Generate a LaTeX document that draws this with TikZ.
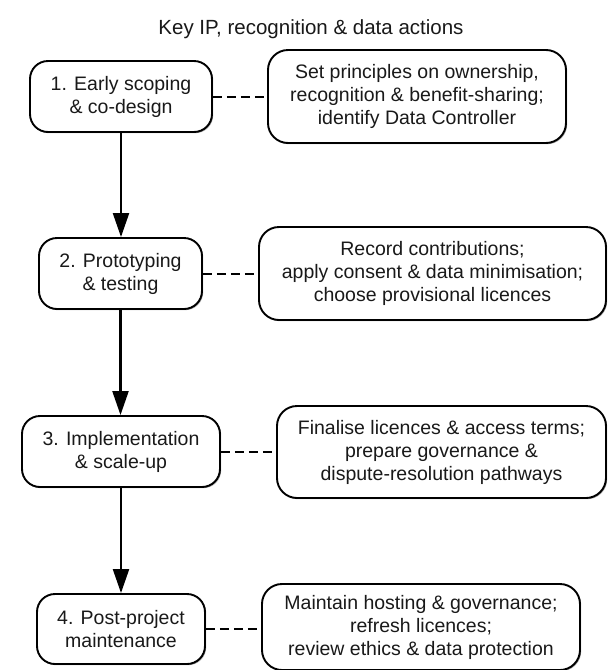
\documentclass[tikz,border=0pt]{standalone}
\usepackage{fontspec}
\setmainfont{Liberation Sans}
\usetikzlibrary{arrows.meta,shadows}
\begin{document}
\begin{tikzpicture}[x=1pt,y=-1pt,
  every node/.style={font=\fontsize{19.5}{23}\selectfont, align=center, inner sep=0pt, text=black!90},
  stage/.style={draw=black, line width=1.9pt, rounded corners=18pt, fill=white,
     drop shadow={shadow xshift=1.2pt, shadow yshift=-1.2pt, opacity=0.35, fill=black}},
  action/.style={stage, rounded corners=20pt},
  flow/.style={line width=2.2pt, -{Triangle[length=24pt,width=16pt]}},
  link/.style={line width=2pt, dash pattern=on 9pt off 5pt}]
\useasboundingbox[fill=white] (0,0) rectangle (608,670);
\node[font=\fontsize{20.5}{24}\selectfont] (title) at (311,29) {Key IP, recognition \& data actions};
\node[stage, minimum width=182pt, minimum height=71pt] (b1) at (121,96.5) {1. Early scoping\\\& co-design};
\node[action, minimum width=298pt, minimum height=93pt] (r1) at (417,96.5) {Set principles on ownership,\\recognition \& benefit-sharing;\\identify Data Controller};
\node[stage, minimum width=163pt, minimum height=71pt] (b2) at (120.5,273.5) {2. Prototyping\\\& testing};
\node[action, minimum width=347pt, minimum height=93pt] (r2) at (432.5,273.5) {Record contributions;\\apply consent \& data minimisation;\\choose provisional licences};
\node[stage, minimum width=198pt, minimum height=71pt] (b3) at (121,451.5) {3. Implementation\\\& scale-up};
\node[action, minimum width=329pt, minimum height=92pt] (r3) at (441.5,452) {Finalise licences \& access terms;\\prepare governance \&\\dispute-resolution pathways};
\node[stage, minimum width=168pt, minimum height=70pt] (b4) at (121,629) {4. Post-project\\maintenance};
\node[action, minimum width=318pt, minimum height=86pt] (r4) at (421,627) {Maintain hosting \& governance;\\refresh licences;\\review ethics \& data protection};
\draw[flow] (b1.south) -- (b1.south |- b2.north);
\draw[flow] (b2.south) -- (b2.south |- b3.north);
\draw[flow] (b3.south) -- (b3.south |- b4.north);
\draw[link] (b1.east) -- (b1.east -| r1.west);
\draw[link] (b2.east) -- (b2.east -| r2.west);
\draw[link] (b3.east) -- (b3.east -| r3.west);
\draw[link] (b4.east) -- (b4.east -| r4.west);
\end{tikzpicture}
\end{document}
